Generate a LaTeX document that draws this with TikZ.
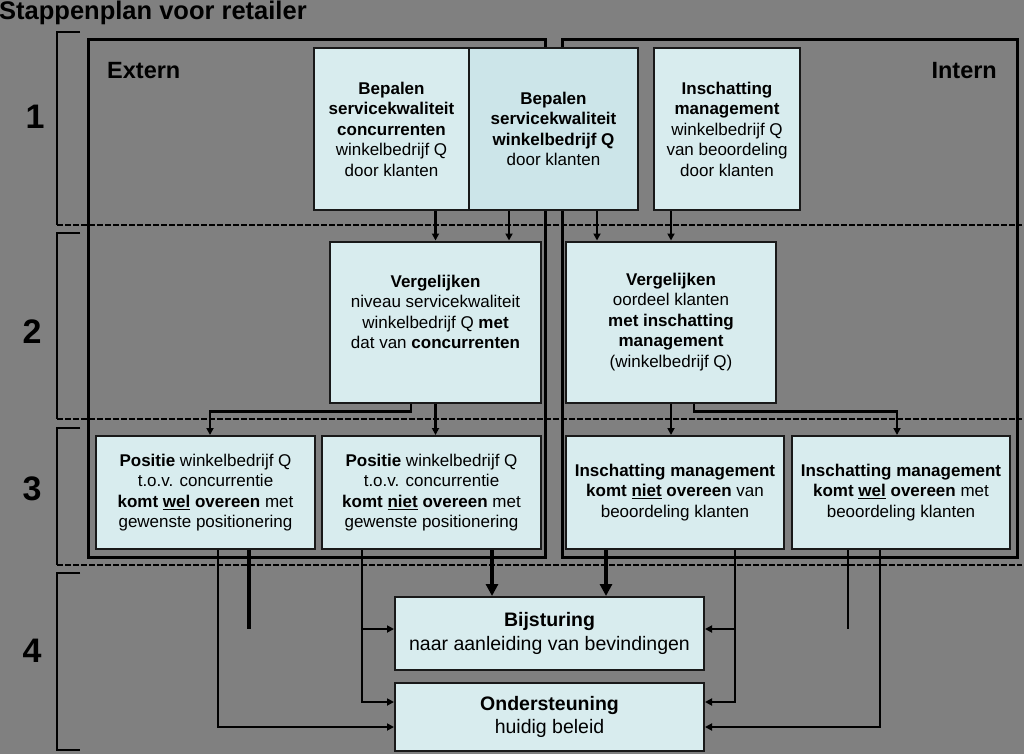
\documentclass[tikz,border=0pt]{standalone}
\usepackage{fontspec}
\setmainfont{Liberation Sans}
\usepackage{xcolor}
\usetikzlibrary{arrows.meta,positioning}
\definecolor{canvas}{HTML}{808080}
\definecolor{soft}{HTML}{D8ECEE}
\definecolor{softdark}{HTML}{CCE5E9}

\begin{document}
\begin{tikzpicture}[x=1pt, y=-1pt,
  box/.style={draw=black!90, line width=2pt, fill=soft, align=center, inner sep=0pt, font=\fontsize{17}{20.5}\selectfont},
  wide/.style={box, font=\fontsize{19.5}{23.5}\selectfont},
  frame/.style={draw=black, line width=3pt},
  rowline/.style={draw=black, line width=2pt, dash pattern=on 6pt off 2pt},
  bracket/.style={draw=black, line width=2.5pt},
  arr/.style={-{Triangle[length=7pt,width=7pt]}, line width=2.2pt, black},
  bigarr/.style={-{Triangle[length=12pt,width=12pt]}, line width=4.5pt, black},
  tail/.style={line width=2.2pt, black},
  rownum/.style={font=\fontsize{34}{34}\selectfont\bfseries},
  side/.style={font=\fontsize{23.5}{23.5}\selectfont\bfseries}]
  \useasboundingbox (0,0) rectangle (1024,754);
  \fill[canvas] (0,0) rectangle (1024,754);
  % title and row numbers
  \node[anchor=base west, inner sep=0pt, font=\fontsize{25.5}{25.5}\selectfont\bfseries] (title) at (-1,20) {Stappenplan voor retailer};
  \node[rownum, anchor=base] (n1) at (35,129) {1};
  \node[rownum, anchor=base] (n2) at (32,343) {2};
  \node[rownum, anchor=base] (n3) at (32,500) {3};
  \node[rownum, anchor=base] (n4) at (32,662) {4};
  % extern / intern frames
  \draw[frame] (88,40) rectangle (545,557);
  \draw[frame] (562,40) rectangle (1017,557);
  \node[side, anchor=base west, inner sep=0pt] (ext) at (107,79) {Extern};
  \node[side, anchor=base east, inner sep=0pt] (int) at (997,79) {Intern};
  % row brackets
  \foreach \top/\bot in {32/225, 233/419, 428/565}
    \draw[bracket] (80,\top) -- (57,\top) -- (57,\bot);
  \draw[bracket] (80,573) -- (57,573) -- (57,750) -- (80,750);
  \foreach \y in {225, 419, 565}
    \draw[rowline] (57,\y) -- (1022,\y);
  % row 1
  \node[box, minimum width=155pt, minimum height=162pt] (A) at (391.5,129) {\textbf{Bepalen}\\\textbf{servicekwaliteit}\\\textbf{concurrenten}\\winkelbedrijf Q\\door klanten};
  \node[box, fill=softdark, minimum width=169pt, minimum height=162pt] (B) at (553.5,129) {\textbf{Bepalen}\\\textbf{servicekwaliteit}\\\textbf{winkelbedrijf Q}\\door klanten};
  \node[box, minimum width=146pt, minimum height=162pt] (C) at (727,129) {\textbf{Inschatting}\\\textbf{management}\\winkelbedrijf Q\\van beoordeling\\door klanten};
  % row 2
  \node[box, minimum width=211pt, minimum height=161pt] (D) at (435.5,322) {\textbf{Vergelijken}\\niveau servicekwaliteit\\winkelbedrijf Q \textbf{met}\\dat van \textbf{concurrenten}\\\mbox{}};
  \node[box, minimum width=210pt, minimum height=161pt] (E) at (671,322) {\textbf{Vergelijken}\\oordeel klanten\\\textbf{met inschatting}\\\textbf{management}\\(winkelbedrijf Q)};
  % row 3
  \node[box, minimum width=219pt, minimum height=113pt] (F) at (205.5,492.5) {\textbf{Positie} winkelbedrijf Q\\t.o.v. concurrentie\\\textbf{komt \underline{wel} overeen} met\\gewenste positionering};
  \node[box, minimum width=219pt, minimum height=113pt] (G) at (431.5,492.5) {\textbf{Positie} winkelbedrijf Q\\t.o.v. concurrentie\\\textbf{komt \underline{niet} overeen} met\\gewenste positionering};
  \node[box, minimum width=218pt, minimum height=113pt] (H) at (675,492.5) {\textbf{Inschatting management}\\\textbf{komt \underline{niet} overeen} van\\beoordeling klanten};
  \node[box, minimum width=218pt, minimum height=113pt] (I) at (901,492.5) {\textbf{Inschatting management}\\\textbf{komt \underline{wel} overeen} met\\beoordeling klanten};
  % row 4
  \node[wide, minimum width=309pt, minimum height=73pt] (J) at (549.5,633.5) {\textbf{Bijsturing}\\naar aanleiding van bevindingen};
  \node[wide, minimum width=309pt, minimum height=68pt, below=11pt of J] (K) {\textbf{Ondersteuning}\\huidig beleid};
  % row 1 -> row 2
  \coordinate (b1) at ([xshift=-44.5pt]B.south);
  \coordinate (b2) at ([xshift=43.5pt]B.south);
  \draw[arr] (A.south -| D.north) -- (D.north);
  \draw[arr] (b1) -- (b1 |- D.north);
  \draw[arr] (b2) -- (b2 |- E.north);
  \draw[arr] (C.south -| E.north) -- (E.north);
  % row 2 -> row 3
  \draw[arr] ([xshift=-24.5pt]D.south) -- ++(0,8) -| ([xshift=4.5pt]F.north);
  \draw[arr] (D.south) -- (D.south |- G.north);
  \draw[arr] (E.south) -- (E.south |- H.north);
  \draw[arr] ([xshift=23pt]E.south) -- ++(0,8) -| ([xshift=-4pt]I.north);
  % row 3 -> row 4
  \coordinate (f1) at ([xshift=12.5pt]F.south);
  \coordinate (f2) at ([xshift=43.5pt]F.south);
  \coordinate (g1) at ([xshift=-69.5pt]G.south);
  \coordinate (g2) at ([xshift=60.5pt]G.south);
  \coordinate (h1) at ([xshift=-69pt]H.south);
  \coordinate (h2) at ([xshift=60pt]H.south);
  \coordinate (i1) at ([xshift=-53pt]I.south);
  \coordinate (i2) at ([xshift=-21pt]I.south);
  \coordinate (jl) at ([yshift=4.5pt]J.west);
  \coordinate (jr) at ([yshift=4.5pt]J.east);
  \coordinate (kl1) at ([yshift=15pt]K.west);
  \coordinate (kl2) at ([yshift=-10pt]K.west);
  \coordinate (kr1) at ([yshift=15pt]K.east);
  \coordinate (kr2) at ([yshift=-10pt]K.east);
  \draw[arr] (f1) |- (kl2);
  \draw[tail, line width=3.5pt] (f2) -- (f2 |- jl);
  \draw[arr] (g1) |- (kl1);
  \draw[arr] (g1 |- jl) -- (jl);
  \draw[bigarr] (g2) -- (g2 |- J.north);
  \draw[bigarr] (h1) -- (h1 |- J.north);
  \draw[arr] (h2) |- (kr1);
  \draw[arr] (h2 |- jr) -- (jr);
  \draw[tail] (i1) -- (i1 |- jr);
  \draw[arr] (i2) |- (kr2);
\end{tikzpicture}
\end{document}
